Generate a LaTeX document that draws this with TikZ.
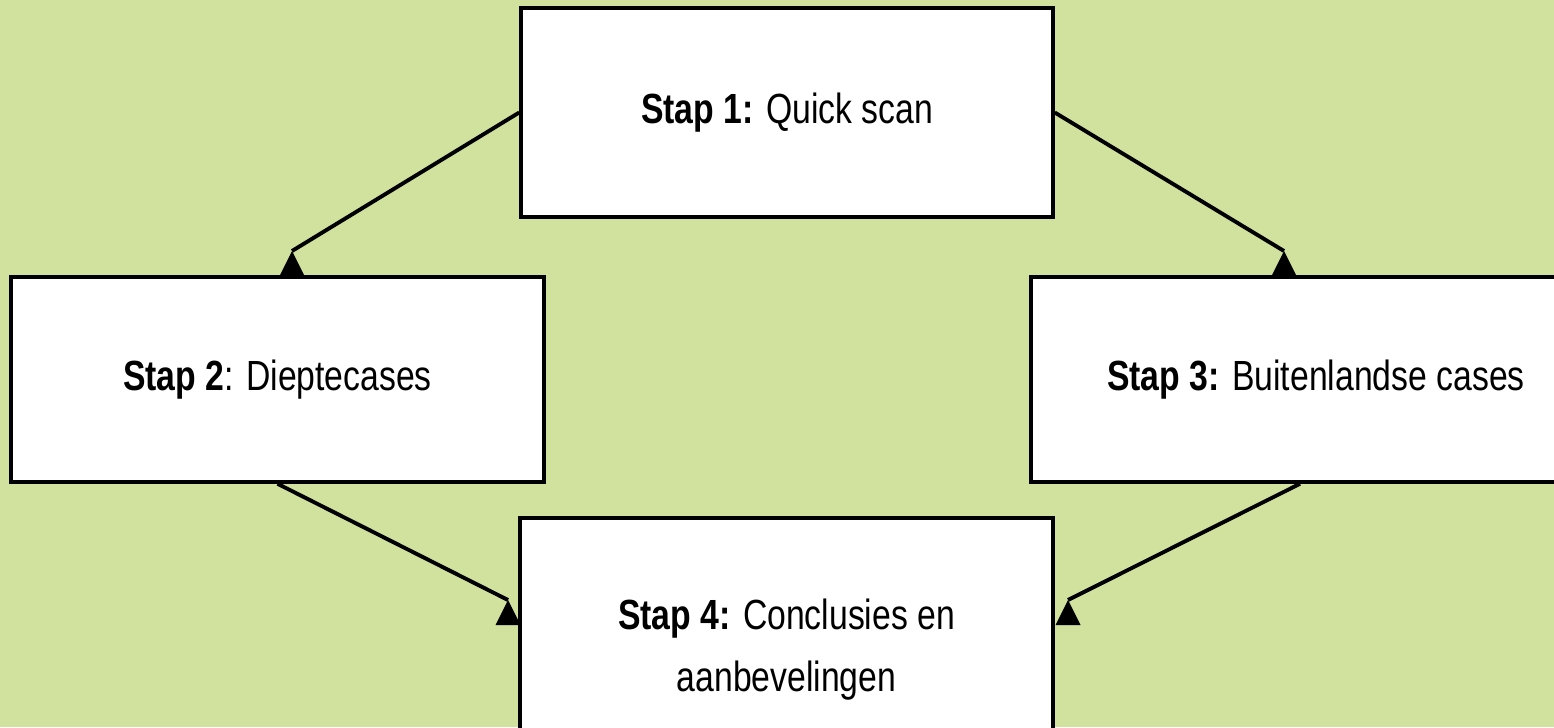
\documentclass[tikz,border=0pt]{standalone}
\usepackage{fontspec}
\setmainfont{Liberation Sans}[FakeStretch=0.8]
\definecolor{bggreen}{RGB}{208,226,158}
\tikzset{
  stepbox/.style = {draw=black, line width=1pt, fill=white, align=center,
                    font=\fontsize{12}{17.6}\selectfont, inner sep=0pt},
  link/.style = {draw=black, line width=1.1pt},
  tipmark/.style = {fill=black}
}

\begin{document}
\begin{tikzpicture}
\clip (0,0) rectangle (15.54,7.27); % picture frame
\fill[bggreen] (0,0) rectangle (15.54,7.27); % background

\node[stepbox, minimum width=5.32cm, minimum height=2.09cm] (stap1) at (7.87,6.145) {\textbf{Stap 1:} Quick scan}; % step 1
\node[stepbox, minimum width=5.33cm, minimum height=2.05cm] (stap2) at (2.775,3.475) {\textbf{Stap 2}: Dieptecases}; % step 2
\node[stepbox, minimum width=5.70cm, minimum height=2.05cm] (stap3) at (13.16,3.475) {\textbf{Stap 3:} Buitenlandse cases}; % step 3
\node[stepbox, minimum width=5.33cm, minimum height=2.63cm] (stap4) at (7.865,0.775) {\textbf{Stap 4:} Conclusies en\\aanbevelingen}; % step 4

\coordinate (tip2) at (2.92,4.76); % tip above step 2
\coordinate (tip3) at (12.84,4.76); % tip above step 3
\coordinate (tip4l) at (5.08,1.27); % tip left of step 4
\coordinate (tip4r) at (10.68,1.27); % tip right of step 4

\draw[link] (stap1.west) -- (tip2); % 1 to 2
\fill[tipmark] (tip2) -- ++(-0.125,-0.25) -- ++(0.25,0) -- cycle; % head
\draw[link] (stap1.east) -- (tip3); % 1 to 3
\fill[tipmark] (tip3) -- ++(-0.125,-0.25) -- ++(0.25,0) -- cycle; % head
\draw[link] (stap2.south) -- (tip4l); % 2 to 4
\fill[tipmark] (tip4l) -- ++(-0.125,-0.25) -- ++(0.25,0) -- cycle; % head
\draw[link] ([xshift=-0.16cm]stap3.south) -- (tip4r); % 3 to 4
\fill[tipmark] (tip4r) -- ++(-0.125,-0.25) -- ++(0.25,0) -- cycle; % head

\end{tikzpicture}
\end{document}
